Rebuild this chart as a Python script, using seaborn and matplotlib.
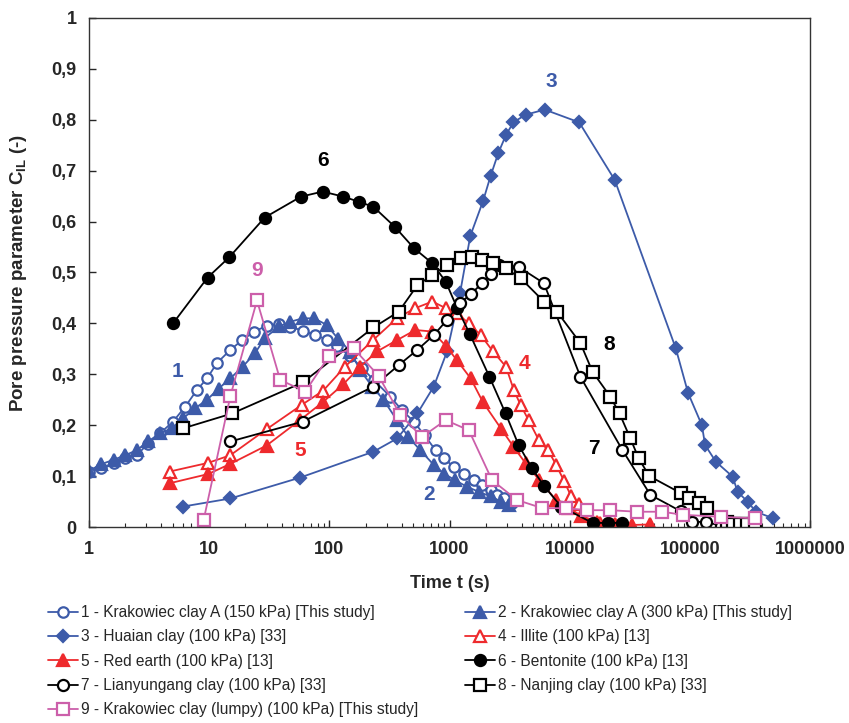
import numpy as np
import pandas as pd
import matplotlib
matplotlib.use("Agg")
import matplotlib.pyplot as plt
import matplotlib.ticker as mticker
import seaborn as sns

# ---- data ----
t1 = [1, 1.25, 1.6, 2, 2.5, 3.1, 3.9, 5, 6.3, 7.9, 9.6, 11.6, 15, 18.8, 23.7, 30, 37.8, 47, 60, 76,
      96, 116, 150, 188, 234, 322, 400, 505, 620, 765, 898, 1085, 1320, 1600, 1865, 2200, 2490, 2830, 3300]
c1 = [0.109, 0.115, 0.125, 0.135, 0.141, 0.164, 0.184, 0.207, 0.236, 0.269, 0.292, 0.322, 0.348, 0.367,
      0.384, 0.395, 0.399, 0.393, 0.386, 0.377, 0.368, 0.355, 0.335, 0.312, 0.289, 0.256, 0.23, 0.207,
      0.18, 0.151, 0.135, 0.118, 0.105, 0.092, 0.083, 0.073, 0.063, 0.056, 0.048]

t2 = [1, 1.25, 1.6, 2, 2.5, 3.1, 3.9, 4.9, 6.1, 7.6, 9.6, 12, 15, 19, 24, 29, 38, 47, 60, 75, 95, 119,
      150, 181, 227, 282, 365, 455, 570, 740, 900, 1110, 1400, 1760, 2200, 2700, 3100]
c2 = [0.11, 0.123, 0.132, 0.141, 0.151, 0.168, 0.184, 0.194, 0.214, 0.233, 0.25, 0.272, 0.292, 0.315,
      0.341, 0.371, 0.394, 0.403, 0.41, 0.41, 0.397, 0.369, 0.344, 0.308, 0.276, 0.25, 0.21, 0.177,
      0.151, 0.122, 0.105, 0.092, 0.079, 0.069, 0.06, 0.05, 0.043]

t3 = [6, 15, 57, 233, 367, 540, 740, 955, 1225, 1490, 1900, 2200, 2550, 2950, 3400, 4300, 6200,
      12000, 23700, 76400, 96800, 126000, 134000, 165000, 227000, 250000, 302000, 355000, 494000]
c3 = [0.04, 0.056, 0.097, 0.148, 0.174, 0.223, 0.276, 0.345, 0.46, 0.572, 0.64, 0.69, 0.735, 0.77,
      0.795, 0.81, 0.82, 0.795, 0.682, 0.351, 0.263, 0.2, 0.161, 0.128, 0.099, 0.069, 0.05, 0.03, 0.017]

t4 = [4.7, 9.8, 15, 30, 59, 89, 135, 233, 365, 520, 720, 930, 1150, 1450, 1820, 2300, 2950, 3430,
      3900, 4550, 5530, 6600, 7720, 9000, 10300, 12000, 14500, 18000]
c4 = [0.109, 0.126, 0.141, 0.192, 0.24, 0.268, 0.315, 0.368, 0.41, 0.43, 0.443, 0.43, 0.42, 0.4,
      0.377, 0.345, 0.315, 0.269, 0.24, 0.21, 0.171, 0.151, 0.122, 0.09, 0.06, 0.045, 0.025, 0.008]

t5 = [4.7, 9.8, 15, 30, 57, 89, 130, 181, 250, 365, 520, 720, 930, 1150, 1500, 1900, 2690, 3400,
      4300, 5600, 7700, 9850, 12500, 16900, 24000, 33000, 47000]
c5 = [0.086, 0.104, 0.124, 0.16, 0.21, 0.246, 0.28, 0.315, 0.345, 0.367, 0.387, 0.384, 0.356, 0.328,
      0.292, 0.245, 0.193, 0.158, 0.125, 0.092, 0.053, 0.037, 0.022, 0.01, 0.005, 0.004, 0.005]

t6 = [5, 9.7, 14.7, 29, 58, 88, 131, 176, 233, 350, 505, 720, 930, 1160, 1470, 2150, 2930, 3760,
      4860, 6100, 8500, 15500, 21000, 27500]
c6 = [0.40, 0.49, 0.53, 0.608, 0.649, 0.659, 0.649, 0.639, 0.629, 0.59, 0.548, 0.518, 0.482, 0.43,
      0.38, 0.295, 0.223, 0.161, 0.115, 0.081, 0.04, 0.008, 0.008, 0.008]

t7 = [15, 60, 233, 378, 540, 740, 955, 1225, 1500, 1865, 2200, 2570, 3760, 6100, 12300, 27500,
      47000, 84000, 105000, 137000, 182000]
c7 = [0.168, 0.207, 0.276, 0.318, 0.348, 0.377, 0.407, 0.44, 0.457, 0.479, 0.497, 0.515, 0.511,
      0.479, 0.295, 0.151, 0.063, 0.031, 0.01, 0.01, 0.002]

t8 = [6.1, 15.5, 60, 233, 378, 540, 720, 955, 1240, 1540, 1865, 2300, 2930, 3900, 6100, 7850, 12300,
      15500, 21800, 26000, 32000, 37500, 46000, 85000, 98000, 119000, 139000, 205000, 230000, 260000,
      300000, 350000]
c8 = [0.194, 0.223, 0.284, 0.392, 0.423, 0.475, 0.495, 0.515, 0.528, 0.53, 0.524, 0.518, 0.508,
      0.489, 0.443, 0.423, 0.361, 0.305, 0.256, 0.223, 0.174, 0.135, 0.1, 0.066, 0.056, 0.047, 0.037,
      0.01, 0.006, 0.006, 0.006, 0.008]

t9 = [9, 15, 25, 39, 63, 99, 159, 257, 390, 590, 930, 1450, 2260, 3650, 5930, 9300, 13900, 21800,
      36300, 59000, 87000, 182000, 350000]
c9 = [0.014, 0.257, 0.445, 0.289, 0.266, 0.335, 0.351, 0.297, 0.22, 0.177, 0.21, 0.19, 0.092, 0.053,
      0.037, 0.037, 0.033, 0.033, 0.03, 0.03, 0.024, 0.02, 0.017]

names = ["1 - Krakowiec clay A (150 kPa) [This study]",
         "2 - Krakowiec clay A (300 kPa) [This study]",
         "3 - Huaian clay (100 kPa) [33]",
         "4 - Illite (100 kPa) [13]",
         "5 - Red earth (100 kPa) [13]",
         "6 - Bentonite (100 kPa) [13]",
         "7 - Lianyungang clay (100 kPa) [33]",
         "8 - Nanjing clay (100 kPa) [33]",
         "9 - Krakowiec clay (lumpy) (100 kPa) [This study]"]

x_ticks = [1, 10, 100, 1000, 10000, 100000, 1000000]
y_ticks = [0, 0.1, 0.2, 0.3, 0.4, 0.5, 0.6, 0.7, 0.8, 0.9, 1.0]
y_labels = ["0", "0,1", "0,2", "0,3", "0,4", "0,5", "0,6", "0,7", "0,8", "0,9", "1"]

# curve labels: text, t, C
curve_tags = [("1", 5.5, 0.305), ("2", 670, 0.063), ("3", 7000, 0.875), ("4", 4200, 0.322),
              ("5", 57, 0.151), ("6", 88, 0.72), ("7", 16000, 0.155), ("8", 21200, 0.358),
              ("9", 25, 0.503)]

BLUE = "#3D5BA9"
RED = "#EE2A2D"
BLACK = "#000000"
PINK = "#CC5FAA"

styles = [
    dict(color=BLUE, marker="o", mfc="white", ms=7.5),
    dict(color=BLUE, marker="^", mfc=BLUE, ms=8),
    dict(color=BLUE, marker="D", mfc=BLUE, ms=6.5),
    dict(color=RED, marker="^", mfc="white", ms=8),
    dict(color=RED, marker="^", mfc=RED, ms=8),
    dict(color=BLACK, marker="o", mfc=BLACK, ms=8),
    dict(color=BLACK, marker="o", mfc="white", ms=8),
    dict(color=BLACK, marker="s", mfc="white", ms=8),
    dict(color=PINK, marker="s", mfc="white", ms=8),
]
tag_colors = [BLUE, BLUE, BLUE, RED, RED, BLACK, BLACK, BLACK, PINK]

series = [(t1, c1), (t2, c2), (t3, c3), (t4, c4), (t5, c5), (t6, c6), (t7, c7), (t8, c8), (t9, c9)]

sns.set_style("ticks")
plt.rcParams["font.family"] = ["Liberation Sans", "DejaVu Sans"]
plt.rcParams["mathtext.fontset"] = "custom"
plt.rcParams["mathtext.rm"] = "Liberation Sans:bold"
plt.rcParams["mathtext.bf"] = "Liberation Sans:bold"

fig = plt.figure(figsize=(8.49, 7.23), dpi=100)
ax = fig.add_axes([89 / 849, 1 - 527 / 723, (810 - 89) / 849, (527 - 18) / 723])

handles = []
for (t, c), st, name in zip(series, styles, names):
    df = pd.DataFrame({"t": t, "C": c})
    sns.lineplot(data=df, x="t", y="C", ax=ax, estimator=None, sort=False,
                 color=st["color"], linewidth=1.3, marker=st["marker"],
                 markersize=st["ms"], markerfacecolor=st["mfc"],
                 markeredgecolor=st["color"], markeredgewidth=1.6, label=name)
    handles.append(ax.lines[-1])

if ax.get_legend() is not None:
    ax.get_legend().remove()

ax.set_xscale("log")
ax.set_xlim(1, 1000000)
ax.set_ylim(0, 1)
ax.xaxis.set_major_locator(mticker.FixedLocator(x_ticks))
ax.xaxis.set_major_formatter(mticker.FixedFormatter([str(v) for v in x_ticks]))
ax.xaxis.set_minor_locator(mticker.LogLocator(base=10, subs=np.arange(2, 10), numticks=20))
ax.xaxis.set_minor_formatter(mticker.NullFormatter())
ax.set_yticks(y_ticks)
ax.set_yticklabels(y_labels)
ax.tick_params(axis="both", which="major", direction="in", length=5, width=1, labelsize=13)
ax.tick_params(axis="x", which="major", pad=10)
ax.tick_params(axis="y", which="major", pad=9)
ax.tick_params(axis="x", which="minor", direction="in", length=3, width=0.8)
for lab in ax.get_xticklabels() + ax.get_yticklabels():
    lab.set_fontweight("bold")
for sp in ax.spines.values():
    sp.set_visible(True)
    sp.set_linewidth(1.0)
    sp.set_color("#333333")

ax.set_xlabel("Time t (s)", fontsize=13, fontweight="bold", labelpad=12)
ax.set_ylabel(r"Pore pressure parameter C$_{\mathbf{IL}}$ (-)", fontsize=13.5,
              fontweight="bold", labelpad=16)

for (txt, tx, ty), col in zip(curve_tags, tag_colors):
    ax.text(tx, ty, txt, color=col, fontsize=15, fontweight="bold", ha="center", va="center")

left_idx = [0, 2, 4, 6, 8]
right_idx = [1, 3, 5, 7]
leg_kw = dict(frameon=False, fontsize=11.2, handlelength=1.9, handletextpad=0.2,
              labelspacing=0.6, borderaxespad=0, borderpad=0, loc="upper left")
fig.legend([handles[i] for i in left_idx], [names[i] for i in left_idx],
           bbox_to_anchor=(48 / 849, 1 - 605 / 723), **leg_kw)
fig.legend([handles[i] for i in right_idx], [names[i] for i in right_idx],
           bbox_to_anchor=(465 / 849, 1 - 605 / 723), **leg_kw)

fig.savefig("out.png", dpi=100)
